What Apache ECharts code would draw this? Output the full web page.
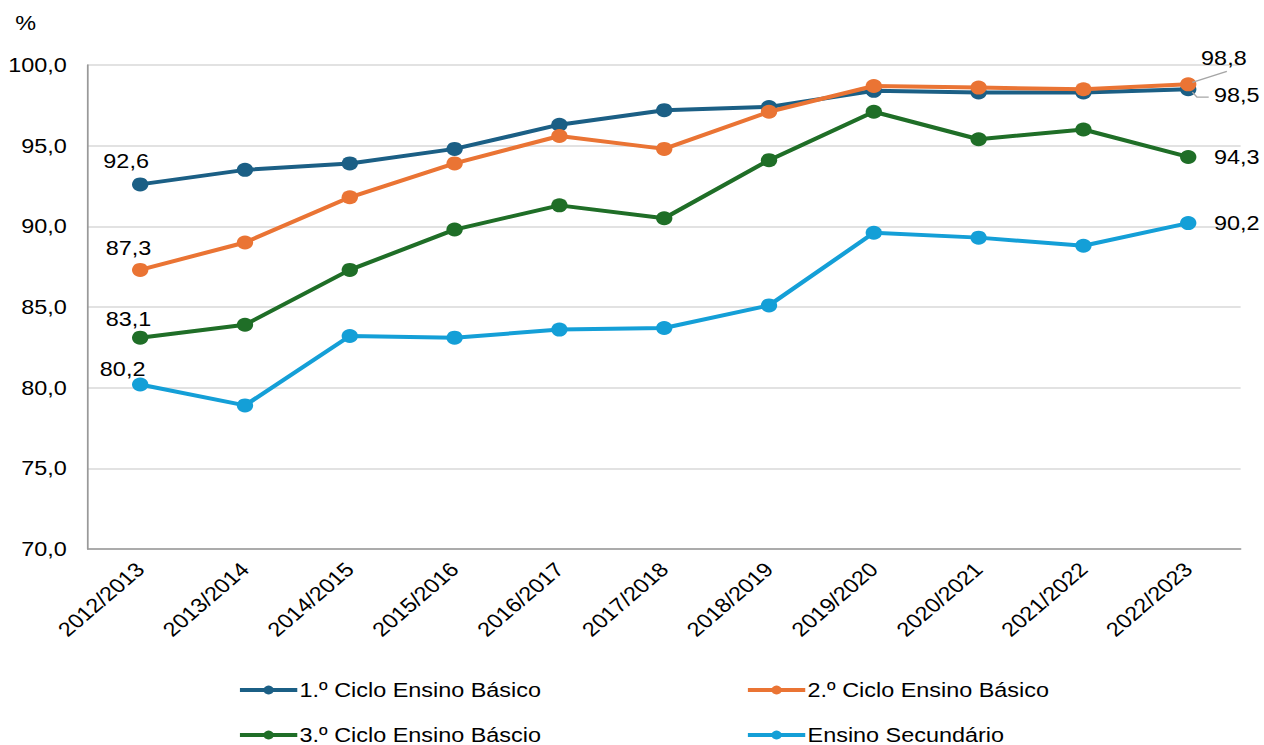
<!DOCTYPE html>
<html><head><meta charset="utf-8">
<script src="https://cdn.jsdelivr.net/npm/echarts@6/dist/echarts.min.js"></script>
<style>
html,body{margin:0;padding:0;background:#fff;overflow:hidden;width:1264px;height:745px}
#c{width:1080px;height:745px;transform:scaleX(1.1704);transform-origin:0 0}
</style>
</head><body><div id="c"></div>
<script>
const categories = ['2012/2013','2013/2014','2014/2015','2015/2016','2016/2017','2017/2018','2018/2019','2019/2020','2020/2021','2021/2022','2022/2023'];
const ciclo1 = [92.6, 93.5, 93.9, 94.8, 96.3, 97.2, 97.4, 98.4, 98.3, 98.3, 98.5];
const ciclo2 = [87.3, 89.0, 91.8, 93.9, 95.6, 94.8, 97.1, 98.7, 98.6, 98.5, 98.8];
const ciclo3 = [83.1, 83.9, 87.3, 89.8, 91.3, 90.5, 94.1, 97.1, 95.4, 96.0, 94.3];
const secundario = [80.2, 78.9, 83.2, 83.1, 83.6, 83.7, 85.1, 89.6, 89.3, 88.8, 90.2];
const seriesNames = ['1.º Ciclo Ensino Básico','2.º Ciclo Ensino Básico','3.º Ciclo Ensino Báscio','Ensino Secundário'];
const colors = ['#1b5f85','#ea7434','#1f6e27','#149fd7'];
const yTicks = [70,75,80,85,90,95,100];

const fmt = v => v.toFixed(1).replace('.', ',');
const FONT = 'Liberation Sans, Arial, sans-serif';

const firstOffsets = [[-12, -1], [-10, 0], [-10, 3], [-15, 7]];
const lastOffsets = [[10, 6], [-1, -26], [10, 0], [10, 0]];

function buildData(arr, k) {
  return arr.map((v, i) => {
    if (i === 0) return {value: v, label: {show: true, position: 'top', offset: firstOffsets[k]}};
    if (i === arr.length - 1) return {value: v, label: {show: true, position: 'right', offset: lastOffsets[k]}};
    return v;
  });
}

const all = [ciclo1, ciclo2, ciclo3, secundario];

const series = all.map((arr, k) => ({
  name: seriesNames[k],
  type: 'line',
  data: buildData(arr, k),
  z: k === 1 ? 4 : 3,
  symbol: 'circle',
  symbolSize: 14,
  lineStyle: {width: 4, color: colors[k]},
  itemStyle: {color: colors[k]},
  label: {show: false, formatter: p => fmt(p.value), color: '#000', fontSize: 20, fontFamily: FONT},
  emphasis: {disabled: true},
  animation: false
}));

const legends = seriesNames.map((n, k) => ({
  data: [n],
  left: k % 2 === 0 ? 203 : 637,
  top: k < 2 ? 680 : 725,
  padding: 0,
  itemWidth: 49,
  itemHeight: 11,
  itemGap: 0,
  lineStyle: {width: 4},
  textStyle: {fontSize: 20, fontFamily: FONT, color: '#000', padding: [0,0,0,-3]},
  selectedMode: false
}));

const chart = echarts.init(document.getElementById('c'), null, {renderer: 'svg'});
chart.setOption({
  animation: false,
  backgroundColor: '#fff',
  title: {text: '%', left: 13, top: 13, padding: 0, textStyle: {fontSize: 20, fontWeight: 'normal', fontFamily: FONT, color: '#000'}},
  grid: {left: 75, right: 20, top: 65, bottom: 196, containLabel: false},
  legend: legends,
  xAxis: {
    type: 'category',
    data: categories,
    boundaryGap: true,
    axisLine: {lineStyle: {color: '#999999', width: 1.5}},
    axisTick: {show: false},
    axisLabel: {rotate: 45, fontSize: 20, fontFamily: FONT, color: '#000', margin: 17, interval: 0}
  },
  yAxis: {
    type: 'value',
    min: yTicks[0], max: yTicks[yTicks.length - 1], interval: 5,
    axisLine: {show: true, lineStyle: {color: '#999999', width: 1.5}},
    axisTick: {show: false},
    splitLine: {lineStyle: {color: '#d9d9d9', width: 1.5}},
    axisLabel: {formatter: v => fmt(v), fontSize: 20, fontFamily: FONT, color: '#000', margin: 18}
  },
  series: series
});

// leader lines for the two overlapping end labels, anchored via the library's scales
const last = categories.length - 1;
const p1 = chart.convertToPixel({gridIndex: 0}, [last, ciclo1[last]]);
const p2 = chart.convertToPixel({gridIndex: 0}, [last, ciclo2[last]]);
chart.setOption({
  graphic: [
    {type: 'polyline', shape: {points: [[p1[0] + 3.5, p1[1] + 3], [p1[0] + 7.5, p1[1] + 8], [p1[0] + 17.5, p1[1] + 8]]}, style: {stroke: '#a6a6a6', lineWidth: 1.3, fill: null}, z: 10},
    {type: 'line', shape: {x1: p2[0] + 3.5, y1: p2[1] - 2, x2: p2[0] + 33, y2: p2[1] - 13}, style: {stroke: '#a6a6a6', lineWidth: 1.3}, z: 10}
  ]
});
</script></body></html>
